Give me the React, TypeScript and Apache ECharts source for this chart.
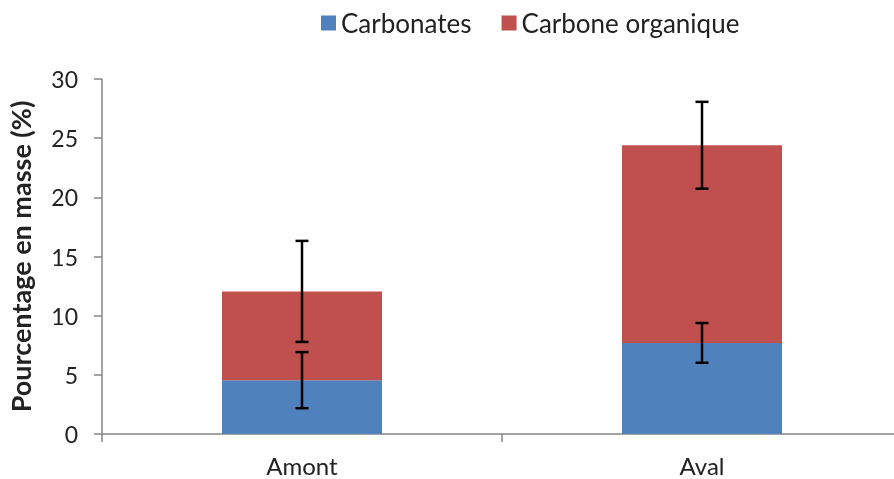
import React, { useEffect, useRef } from "react";
import * as echarts from "echarts";

const categories = ["Amont", "Aval"];
const carbonates = [4.55, 7.7];
const carboneOrganique = [7.5, 16.7];
const errCarbonates = [2.37, 1.68];
const errOrganique = [4.27, 3.67];
const yTicks = [0, 5, 10, 15, 20, 25, 30];

const FONT = "Lato, 'Noto Sans', sans-serif";

export default function App() {
  const ref = useRef<HTMLDivElement>(null);
  useEffect(() => {
    if (!ref.current) return;
    const chart = echarts.init(ref.current, null, { renderer: "svg" });
    const errData: number[][] = [];
    categories.forEach((_, i) => {
      const c = carbonates[i];
      errData.push([i, c - errCarbonates[i], c + errCarbonates[i]]);
      const t = carbonates[i] + carboneOrganique[i];
      errData.push([i, t - errOrganique[i], t + errOrganique[i]]);
    });
    chart.setOption({
      animation: false,
      textStyle: { fontFamily: FONT },
      legend: {
        left: 316,
        top: 5,
        icon: "rect",
        itemWidth: 15,
        itemHeight: 15,
        itemGap: 30,
        textStyle: { fontSize: 26, color: "#222", fontFamily: FONT },
        data: ["Carbonates", "Carbone organique"],
      },
      grid: { left: 102, top: 79, width: 800, height: 355, containLabel: false, outerBoundsMode: "none" },
      xAxis: {
        type: "category",
        data: categories,
        boundaryGap: true,
        axisLine: { lineStyle: { color: "#868686", width: 1.5 } },
        axisTick: { show: true, length: 8, lineStyle: { color: "#868686", width: 1.5 } },
        axisLabel: { fontSize: 24, color: "#222", margin: 19, fontFamily: FONT },
      },
      yAxis: {
        type: "value",
        min: yTicks[0],
        max: yTicks[yTicks.length - 1],
        interval: 5,
        name: "Pourcentage en masse (%)",
        nameLocation: "middle",
        nameGap: 68,
        nameTextStyle: { fontSize: 27, fontWeight: "bold", color: "#222", fontFamily: FONT },
        axisLine: { show: true, lineStyle: { color: "#868686", width: 1.5 } },
        axisTick: { show: true, length: 8, lineStyle: { color: "#868686", width: 1.5 } },
        splitLine: { show: false },
        axisLabel: { fontSize: 23, color: "#222", margin: 24, fontFamily: FONT },
      },
      series: [
        {
          name: "Carbonates",
          type: "bar",
          stack: "total",
          barWidth: 160,
          itemStyle: { color: "#4F81BD" },
          data: carbonates,
        },
        {
          name: "Carbone organique",
          type: "bar",
          stack: "total",
          barWidth: 160,
          itemStyle: { color: "#C0504D" },
          data: carboneOrganique,
        },
        {
          type: "custom",
          name: "err",
          z: 10,
          data: errData,
          renderItem: (params: any, api: any) => {
            const x = api.value(0);
            const lo = api.coord([x, api.value(1)]);
            const hi = api.coord([x, api.value(2)]);
            const hw = 6.5;
            const style = { stroke: "#000", lineWidth: 2.5 };
            return {
              type: "group",
              children: [
                { type: "line", shape: { x1: lo[0], y1: lo[1], x2: hi[0], y2: hi[1] }, style },
                { type: "line", shape: { x1: lo[0] - hw, y1: lo[1], x2: lo[0] + hw, y2: lo[1] }, style },
                { type: "line", shape: { x1: hi[0] - hw, y1: hi[1], x2: hi[0] + hw, y2: hi[1] }, style },
              ],
            };
          },
        },
      ],
    });
    return () => chart.dispose();
  }, []);
  return (
    <div
      ref={ref}
      style={{ position: "fixed", left: 0, top: 0, width: 894, height: 479, overflow: "hidden" }}
    />
  );
}
